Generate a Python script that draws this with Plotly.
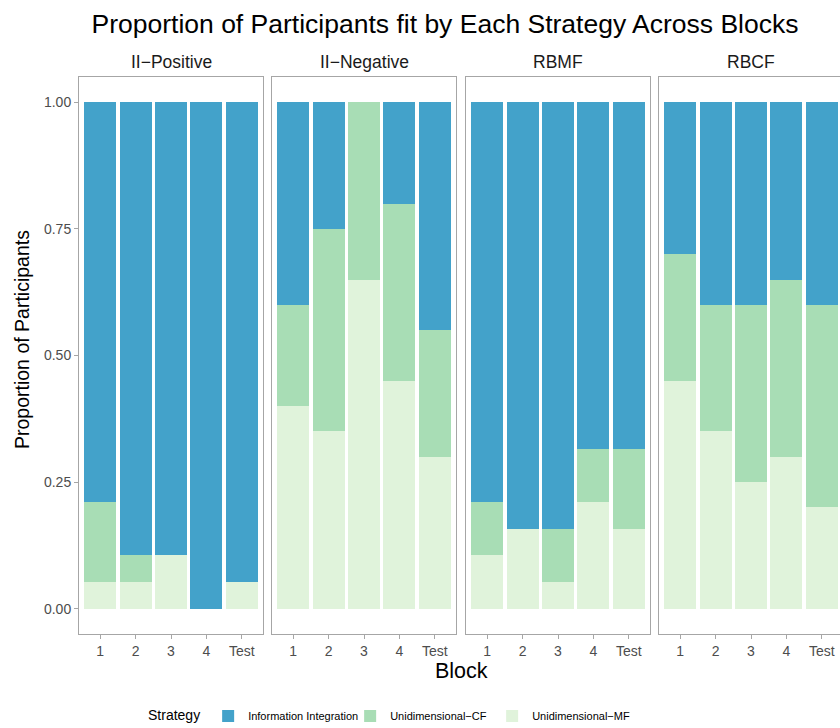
import plotly.graph_objects as go

blocks = ["1", "2", "3", "4", "Test"]
conditions = ["II−Positive", "II−Negative", "RBMF", "RBCF"]
strategies = ["Unidimensional−MF", "Unidimensional−CF", "Information Integration"]
colors = {"Information Integration": "#43A2CA",
          "Unidimensional−CF": "#A8DDB5",
          "Unidimensional−MF": "#E0F3DB"}

# proportions per condition (blocks 1,2,3,4,Test)
mf_vals = {
    "II−Positive": [0.0526, 0.0526, 0.1053, 0.0, 0.0526],
    "II−Negative": [0.40, 0.35, 0.65, 0.45, 0.30],
    "RBMF":        [0.1053, 0.1579, 0.0526, 0.2105, 0.1579],
    "RBCF":        [0.45, 0.35, 0.25, 0.30, 0.20],
}
cf_vals = {
    "II−Positive": [0.1579, 0.0526, 0.0, 0.0, 0.0],
    "II−Negative": [0.20, 0.40, 0.35, 0.35, 0.25],
    "RBMF":        [0.1053, 0.0, 0.1053, 0.1053, 0.1579],
    "RBCF":        [0.25, 0.25, 0.35, 0.35, 0.40],
}
ii_vals = {
    "II−Positive": [0.7895, 0.8947, 0.8947, 1.0, 0.9474],
    "II−Negative": [0.40, 0.25, 0.0, 0.20, 0.45],
    "RBMF":        [0.7895, 0.8421, 0.8421, 0.6842, 0.6842],
    "RBCF":        [0.30, 0.40, 0.40, 0.35, 0.40],
}
series = {"Unidimensional−MF": mf_vals, "Unidimensional−CF": cf_vals,
          "Information Integration": ii_vals}

FONT = "Liberation Sans, Arial, Helvetica, sans-serif"
W, H = 840, 728
L, R, T, B = 79, 0, 77, 94
pw = W - L - R
ph = H - T - B

def px_x(p):
    return (p - L) / pw

def px_y(p):
    return (H - B - p) / ph

panel_px = [(79, 263), (272, 456), (466, 650), (659, 840)]
domains = [[px_x(a), min(1.0, px_x(b))] for a, b in panel_px]
unit = 184 / 5.2
ranges = [[-0.6, 4.6]] * 3 + [[-0.6, -0.6 + 181 / unit]]

fig = go.Figure()
for i, cond in enumerate(conditions):
    xa = "x" if i == 0 else f"x{i+1}"
    ya = "y" if i == 0 else f"y{i+1}"
    for s in strategies:
        fig.add_trace(go.Bar(
            x=blocks, y=series[s][cond], name=s,
            marker=dict(color=colors[s], line=dict(width=0)),
            width=0.9, xaxis=xa, yaxis=ya,
            showlegend=(i == 0), legendgroup=s,
        ))

axis_common = dict(showgrid=False, zeroline=False, showline=True,
                   linecolor="#A6A6A6", linewidth=1, automargin=False,
                   ticks="outside", ticklen=4, tickcolor="#A6A6A6",
                   tickfont=dict(family=FONT, size=14, color="#4D4D4D"))

layout = dict(
    width=W, height=H, barmode="stack", bargap=0.1,
    plot_bgcolor="white", paper_bgcolor="white",
    margin=dict(l=L, r=R, t=T, b=B, autoexpand=False),
    font=dict(family=FONT, color="black"),
    title=dict(text="Proportion of Participants fit by Each Strategy Across Blocks",
               x=445 / W, xanchor="center", xref="container",
               y=1 - 24 / H, yanchor="middle", yref="container",
               font=dict(family=FONT, size=26.5, color="black")),
    legend=dict(orientation="h", traceorder="reversed",
                title=dict(text="Strategy", side="left",
                           font=dict(family=FONT, size=14, color="black")),
                font=dict(family=FONT, size=11, color="black"),
                entrywidth=97, entrywidthmode="pixels",
                xref="container", yref="container",
                x=146 / W, xanchor="left", y=1 - 716 / H, yanchor="middle",
                bgcolor="rgba(0,0,0,0)"),
)

for i in range(4):
    key = "xaxis" if i == 0 else f"xaxis{i+1}"
    xa = dict(axis_common)
    xa.update(domain=domains[i], range=ranges[i], type="category",
              categoryorder="array", categoryarray=blocks,
              anchor="y" if i == 0 else f"y{i+1}", mirror=True, fixedrange=True)
    layout[key] = xa

ya = dict(axis_common)
ya.update(domain=[0, 1], range=[-0.05, 1.05], tickvals=[0, 0.25, 0.5, 0.75, 1.0],
          ticktext=["0.00", "0.25", "0.50", "0.75", "1.00"], mirror=True, anchor="x")
layout["yaxis"] = ya
for i in range(1, 4):
    layout[f"yaxis{i+1}"] = dict(
        showgrid=False, zeroline=False, showline=True, linecolor="#A6A6A6",
        linewidth=1, showticklabels=False, ticks="", automargin=False,
        range=[-0.05, 1.05], domain=[0, 1], anchor=f"x{i+1}",
        mirror=(i < 3))

fig.update_layout(**layout)

annotations = []
for i, cond in enumerate(conditions):
    a, b = panel_px[i]
    cx = a + 92
    annotations.append(dict(text=cond, x=px_x(cx), y=px_y(62), xref="paper", yref="paper",
                            showarrow=False, xanchor="center", yanchor="middle",
                            font=dict(family=FONT, size=17.5, color="#1A1A1A")))
annotations.append(dict(text="Block", x=px_x(461), y=px_y(671), xref="paper", yref="paper",
                        showarrow=False, xanchor="center", yanchor="middle",
                        font=dict(family=FONT, size=21.5, color="black")))
annotations.append(dict(text="Proportion of Participants", x=px_x(22), y=px_y(340),
                        xref="paper", yref="paper", textangle=-90,
                        showarrow=False, xanchor="center", yanchor="middle",
                        font=dict(family=FONT, size=19.5, color="black")))
fig.update_layout(annotations=annotations)

fig.write_html("out.html", config={"displayModeBar": False},
               post_script="document.body.style.margin='0';")
